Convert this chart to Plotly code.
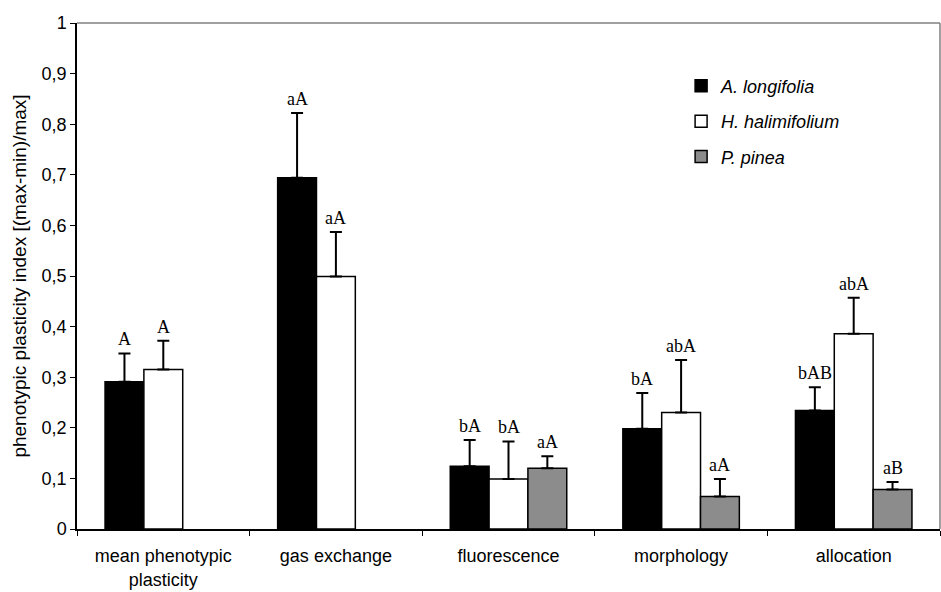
import plotly.graph_objects as go

# Plasticity index per trait group for the three species
categories = ["mean phenotypic<br>plasticity", "gas exchange", "fluorescence", "morphology", "allocation"]
species = ["A. longifolia", "H. halimifolium", "P. pinea"]

longifolia_mean = [0.291, 0.694, 0.124, 0.198, 0.234]
longifolia_upper = [0.347, 0.822, 0.176, 0.269, 0.280]
longifolia_letters = ["A", "aA", "bA", "bA", "bAB"]

halimifolium_mean = [0.315, 0.499, 0.099, 0.230, 0.386]
halimifolium_upper = [0.372, 0.587, 0.173, 0.334, 0.457]
halimifolium_letters = ["A", "aA", "bA", "abA", "abA"]

pinea_mean = [None, None, 0.120, 0.064, 0.078]
pinea_upper = [None, None, 0.144, 0.099, 0.093]
pinea_letters = [None, None, "aA", "aA", "aB"]

y_ticks = [i / 10 for i in range(11)]

series = [
    (species[0], longifolia_mean, longifolia_upper, longifolia_letters, "#000000"),
    (species[1], halimifolium_mean, halimifolium_upper, halimifolium_letters, "#ffffff"),
    (species[2], pinea_mean, pinea_upper, pinea_letters, "#8c8c8c"),
]

BAR_W = 0.225
offsets = [-BAR_W, 0.0, BAR_W]

fig = go.Figure()
annotations = []
for k, (name, mean, upper, letters, color) in enumerate(series):
    plus = [None if m is None else u - m for m, u in zip(mean, upper)]
    minus = [None if m is None else 0 for m in mean]
    fig.add_trace(go.Bar(
        name=f"<i>{name}</i>",
        x=categories,
        y=mean,
        legendgroup=name,
        marker=dict(color=color, line=dict(color="#000000", width=1.5)),
        error_y=dict(type="data", symmetric=False, array=plus, arrayminus=minus,
                     color="#000000", thickness=2, width=6),
    ))
    for i, (u, lab) in enumerate(zip(upper, letters)):
        if lab is None:
            continue
        annotations.append(dict(
            x=i + offsets[k], y=u, xref="x", yref="y", text=lab,
            showarrow=False, yanchor="bottom", yshift=2,
            font=dict(family="Liberation Serif", size=18, color="#000000"),
        ))

fig.update_layout(
    width=941, height=592,
    margin=dict(l=77, r=1, t=23, b=63),
    paper_bgcolor="white", plot_bgcolor="white",
    barmode="group", bargap=1 - 3 * BAR_W, bargroupgap=0,
    separators=", ",
    font=dict(family="Liberation Sans", size=17, color="#000000"),
    showlegend=True,
    legend=dict(x=0.700, y=0.912, xanchor="left", yanchor="top",
                bgcolor="rgba(0,0,0,0)", tracegroupgap=9,
                font=dict(family="Liberation Sans", size=18)),
    annotations=annotations,
    shapes=[
        dict(type="line", xref="paper", yref="paper", x0=0, x1=1, y0=1, y1=1,
             line=dict(color="#808080", width=1.5)),
        dict(type="line", xref="paper", yref="paper", x0=1, x1=1, y0=0, y1=1,
             line=dict(color="#808080", width=1.5)),
    ],
)

fig.update_xaxes(
    type="category", range=[-0.5, 4.5], tickson="boundaries",
    ticks="outside", ticklen=5, tickcolor="#000000",
    showline=True, linecolor="#000000", linewidth=1.5,
    showgrid=False, zeroline=False,
    tickfont=dict(size=18), ticklabelstandoff=10,
)
fig.update_yaxes(
    range=[0, 1], tickvals=y_ticks, tickformat="~g",
    ticks="outside", ticklen=5, tickcolor="#000000",
    showline=True, linecolor="#000000", linewidth=1.5,
    showgrid=False, zeroline=False,
    tickfont=dict(size=18),
    title=dict(text="phenotypic plasticity index [(max-min)/max]",
               font=dict(size=19), standoff=10),
)

fig.write_html("out.html")
